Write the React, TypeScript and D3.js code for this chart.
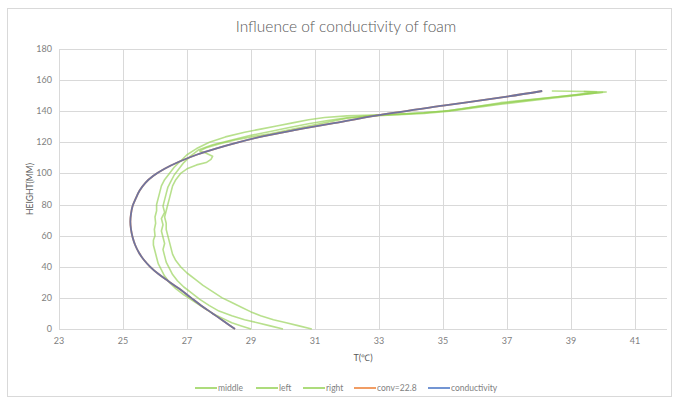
import React, { useRef, useEffect } from 'react';
import * as d3 from 'd3';

// measured curves, [T (°C), height (mm)]
const middleData: [number, number][] = [
  [29.0, 0], [28.7, 2], [28.4, 4], [28.1, 7], [27.8, 10], [27.5, 14], [27.2, 18], [26.9, 22], [26.65, 26],
  [26.45, 30], [26.3, 34], [26.2, 38], [26.1, 42], [26.05, 46], [26.0, 50], [25.95, 54], [25.95, 57],
  [26.0, 60], [25.98, 64], [26.02, 68], [26.0, 72], [26.05, 76], [26.05, 80], [26.1, 84], [26.15, 88],
  [26.2, 92], [26.3, 96], [26.45, 100], [26.6, 104], [26.8, 108], [27.0, 112], [27.3, 116], [27.7, 120],
  [28.2, 123.5], [28.8, 126.5], [29.3, 128.5], [29.8, 130.5], [30.3, 132.5], [30.8, 134.5], [31.3, 136],
  [32.0, 137], [32.8, 137.6], [33.6, 138], [34.4, 139], [35.0, 140], [35.6, 141.5], [36.2, 143.5],
  [36.8, 145.5], [37.5, 147], [38.2, 148.5], [38.8, 149.8], [39.4, 151], [39.8, 151.8], [40.1, 152.4],
  [39.6, 152.6], [39.0, 152.8], [38.4, 153],
];

const leftData: [number, number][] = [
  [30.0, 0], [29.6, 2], [29.2, 4], [28.8, 6], [28.4, 8.5], [28.0, 11.5], [27.7, 15], [27.4, 19], [27.15, 23],
  [26.9, 27], [26.7, 31], [26.55, 35], [26.45, 39], [26.35, 43], [26.3, 47], [26.25, 51], [26.3, 55],
  [26.25, 59], [26.2, 63], [26.25, 67], [26.2, 71], [26.3, 75], [26.25, 79], [26.3, 83], [26.35, 87],
  [26.4, 91], [26.5, 95], [26.6, 99], [26.75, 103], [26.9, 107], [27.1, 111], [27.35, 115], [27.8, 118.5],
  [28.4, 121.5], [29.0, 124.5], [29.6, 127], [30.2, 129.5], [30.8, 132], [31.4, 134], [32.0, 135.8],
  [32.8, 137.2], [33.6, 138.2], [34.4, 139], [35.2, 140.5], [36.0, 142.8], [36.8, 145], [37.6, 147],
  [38.4, 148.8], [39.0, 150.2], [39.5, 151.5], [39.8, 152.3], [39.4, 152.7],
];

const rightData: [number, number][] = [
  [30.9, 0], [30.5, 2], [30.1, 4], [29.7, 6], [29.3, 8.5], [29.0, 11], [28.7, 14], [28.4, 17], [28.1, 20],
  [27.8, 24], [27.5, 28], [27.25, 32], [27.0, 36], [26.8, 40], [26.65, 44], [26.55, 48], [26.5, 52],
  [26.45, 56], [26.4, 60], [26.35, 64], [26.35, 68], [26.3, 72], [26.35, 76], [26.4, 80], [26.45, 84],
  [26.5, 88], [26.55, 92], [26.65, 96], [26.8, 100], [27.0, 103], [27.3, 105.5], [27.6, 107], [27.75, 109],
  [27.8, 111], [27.6, 113], [27.4, 114.5], [27.6, 116.5], [28.0, 119], [28.5, 121.5], [29.0, 123.5],
  [29.6, 125.5], [30.2, 128], [30.8, 130.5], [31.4, 133], [32.0, 135.5], [32.8, 137], [33.6, 137.8],
  [34.4, 138.5], [35.2, 140], [36.0, 142.3], [36.8, 144.5], [37.6, 146.5], [38.4, 148.3], [39.1, 150],
  [39.6, 151.3], [40.0, 152.2],
];

const conductivityData: [number, number][] = [
  [28.5, 0], [28.15, 5], [27.8, 10], [27.45, 15], [27.1, 20.5], [26.75, 26], [26.4, 31], [26.1, 35.5],
  [25.85, 40], [25.65, 44.5], [25.5, 49], [25.38, 54], [25.3, 59], [25.25, 64], [25.23, 69], [25.25, 74],
  [25.3, 79], [25.4, 84], [25.52, 89], [25.7, 94], [25.95, 98.5], [26.3, 103], [26.75, 107.5], [27.3, 112],
  [27.9, 116], [28.6, 120], [29.4, 124], [30.4, 128], [31.5, 132], [33.0, 137.5], [35.0, 143.6],
  [37.0, 149.4], [38.1, 153],
];

// the conv=22.8 run sits under the conductivity curve
const convData: [number, number][] = conductivityData;

const xTicks = [23, 25, 27, 29, 31, 33, 35, 37, 39, 41];
const yTicks = [0, 20, 40, 60, 80, 100, 120, 140, 160, 180];
const seriesNames = ['middle', 'left', 'right', 'conv=22.8', 'conductivity'];
const seriesColors = ['#92d050', '#92d050', '#92d050', '#ed7d31', '#4472c4'];

const App = () => {
  const svgRef = useRef<SVGSVGElement>(null);

  useEffect(() => {
    const svg = d3.select(svgRef.current);
    svg.selectAll('*').remove();

    const width = 673;
    const font = 'Lato, "Open Sans", sans-serif';
    const margin = { top: 49, right: 6, bottom: 70, left: 59 };
    const plotRight = width - margin.right;
    const plotBottom = 399 - margin.bottom;

    const x = d3.scaleLinear().domain([23, 42]).range([margin.left, plotRight]);
    const y = d3.scaleLinear().domain([0, 180]).range([plotBottom, margin.top]);

    // chart frame
    svg.append('rect')
      .attr('x', 7.5).attr('y', 8.5)
      .attr('width', 664).attr('height', 388)
      .attr('fill', '#fff').attr('stroke', '#d9d9d9');

    svg.append('text')
      .attr('x', 346).attr('y', 32)
      .attr('text-anchor', 'middle')
      .attr('font-family', font).attr('font-size', 15.5)
      .attr('font-weight', 300)
      .attr('fill', '#595959')
      .text('Influence of conductivity of foam');

    // gridlines
    const grid = svg.append('g').attr('stroke', '#d9d9d9').attr('stroke-width', 1);
    yTicks.forEach(t => {
      grid.append('line')
        .attr('x1', margin.left).attr('x2', plotRight)
        .attr('y1', Math.round(y(t)) + 0.5).attr('y2', Math.round(y(t)) + 0.5);
    });
    xTicks.forEach(t => {
      grid.append('line')
        .attr('x1', Math.round(x(t)) + 0.5).attr('x2', Math.round(x(t)) + 0.5)
        .attr('y1', margin.top).attr('y2', plotBottom);
    });

    // tick labels
    svg.append('g')
      .selectAll('text')
      .data(yTicks)
      .enter()
      .append('text')
      .attr('x', 52).attr('y', d => y(d) + 3)
      .attr('text-anchor', 'end')
      .attr('font-family', font).attr('font-size', 9)
      .attr('fill', '#7f7f7f')
      .text(d => d);

    svg.append('g')
      .selectAll('text')
      .data(xTicks)
      .enter()
      .append('text')
      .attr('x', d => x(d)).attr('y', plotBottom + 15)
      .attr('text-anchor', 'middle')
      .attr('font-family', font).attr('font-size', 9)
      .attr('fill', '#7f7f7f')
      .text(d => d);

    // axis titles
    svg.append('text')
      .attr('transform', `translate(33, ${(margin.top + plotBottom) / 2}) rotate(-90)`)
      .attr('text-anchor', 'middle')
      .attr('font-family', font).attr('font-size', 8.5)
      .attr('fill', '#595959')
      .text('HEIGHT(MM)');

    svg.append('text')
      .attr('x', (margin.left + plotRight) / 2).attr('y', plotBottom + 32)
      .attr('text-anchor', 'middle')
      .attr('font-family', font).attr('font-size', 9)
      .attr('fill', '#595959')
      .text('T(℃)');

    // curves
    const line = d3.line<[number, number]>()
      .x(d => x(d[0]))
      .y(d => y(d[1]));
    const smooth = d3.line<[number, number]>()
      .x(d => x(d[0]))
      .y(d => y(d[1]))
      .curve(d3.curveCatmullRom);

    const plot = svg.append('g').attr('fill', 'none').attr('stroke-linejoin', 'round');
    [middleData, leftData, rightData].forEach(data => {
      plot.append('path')
        .attr('d', line(data))
        .attr('stroke', seriesColors[0])
        .attr('stroke-opacity', 0.65)
        .attr('stroke-width', 1.6);
    });
    plot.append('path')
      .attr('d', smooth(convData))
      .attr('stroke', seriesColors[3])
      .attr('stroke-width', 1.8);
    plot.append('path')
      .attr('d', smooth(conductivityData))
      .attr('stroke', seriesColors[4])
      .attr('stroke-opacity', 0.75)
      .attr('stroke-width', 1.8);

    // legend
    const legendX = [195, 256, 303, 354, 428];
    const legend = svg.append('g').attr('transform', 'translate(0, 388)');
    seriesNames.forEach((name, i) => {
      legend.append('line')
        .attr('x1', legendX[i]).attr('x2', legendX[i] + 22)
        .attr('y1', 0).attr('y2', 0)
        .attr('stroke', seriesColors[i])
        .attr('stroke-width', 1.5);
      legend.append('text')
        .attr('x', legendX[i] + 23).attr('y', 3)
        .attr('font-family', font).attr('font-size', 8.5)
        .attr('fill', '#7f7f7f')
        .text(name);
    });
  }, []);

  return (
    <svg
      ref={svgRef}
      width={673}
      height={399}
      style={{ position: 'absolute', left: 0, top: 0, background: '#fff' }}
    />
  );
};

export default App;
